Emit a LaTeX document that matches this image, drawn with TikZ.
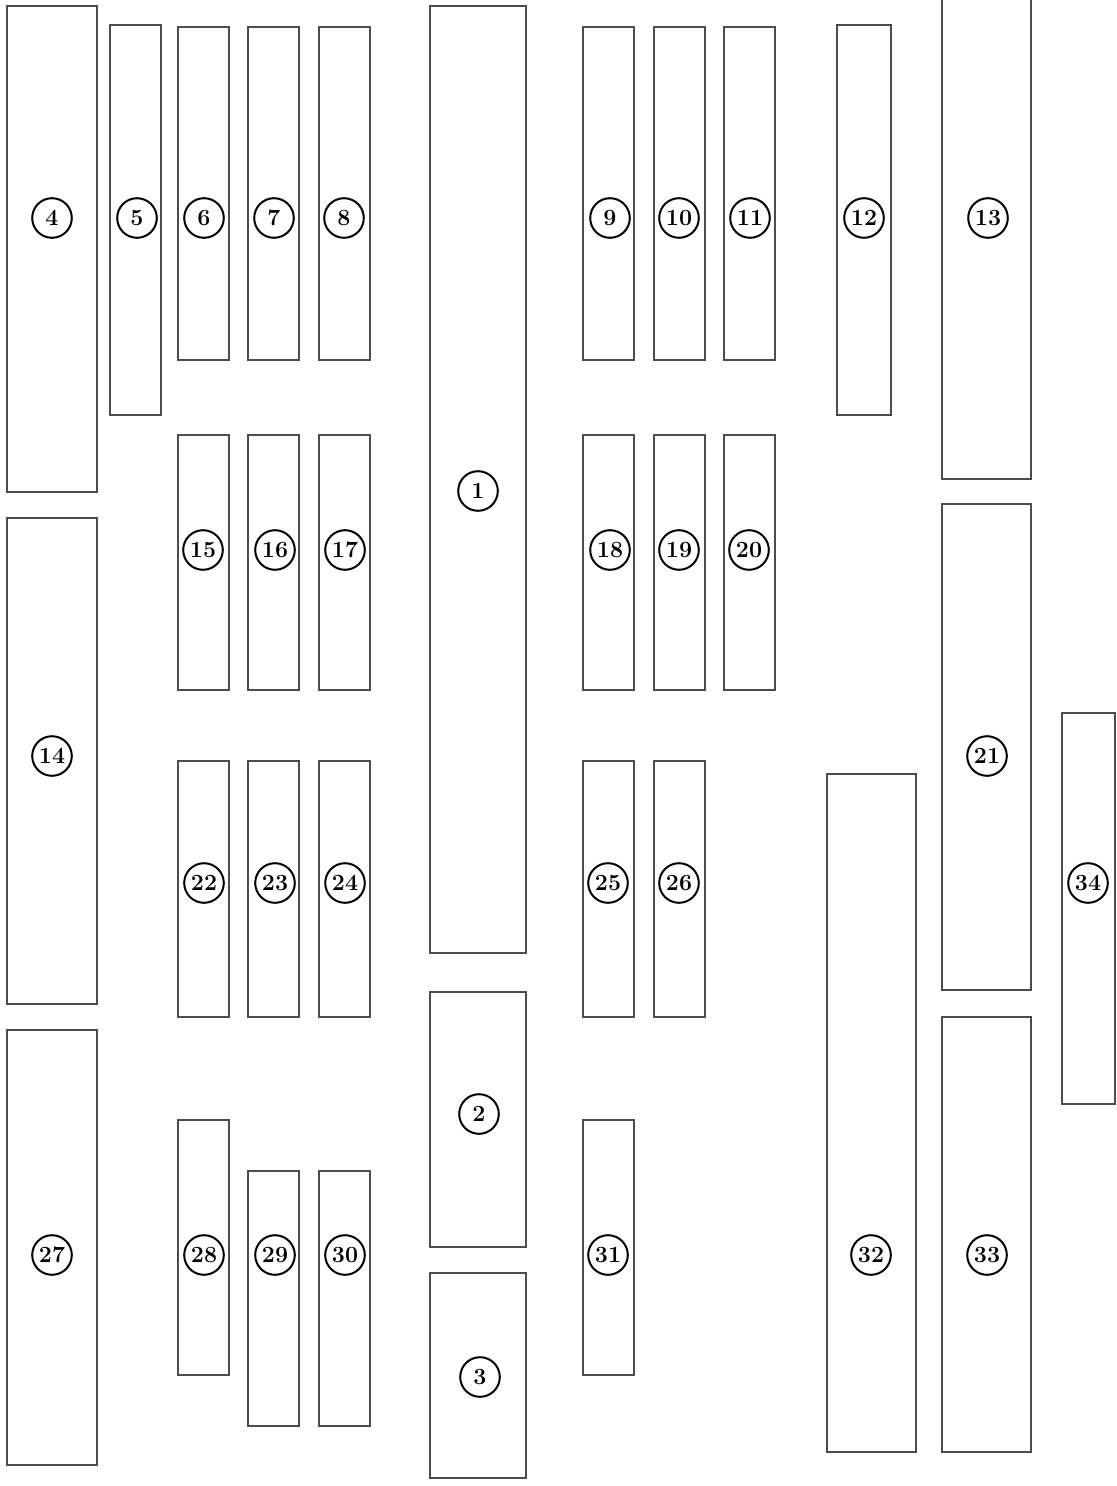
\documentclass[tikz,border=0pt]{standalone}
\usetikzlibrary{fit}
\tikzset{
  box/.style={draw=black!70, line width=0.55pt, inner sep=0pt, fill=none},
  lbl/.style={draw=black, circle, line width=1pt, minimum size=19.8pt, inner sep=0pt,
              font=\fontsize{11.6}{13}\selectfont\bfseries, text=black}
}
\newcommand\mybox[5]{\node[box, fit={(#2,#3) (#4,#5)}] (b#1) {};}
\newcommand\mylabel[3]{\node[lbl] (c#1) at (#2,#3) {#1};}
\begin{document}
\begin{tikzpicture}[x=0.5pt,y=-0.5pt]
\useasboundingbox (0,0) rectangle (1117,1486);
% central column
\mybox{1}{430}{6}{526}{953}
\mybox{2}{430}{992}{526}{1247}
\mybox{3}{430}{1273}{526}{1478}
% top row
\mybox{4}{7}{6}{97}{492}
\mybox{5}{110}{25}{161}{415}
\mybox{6}{178}{27}{229}{360}
\mybox{7}{248}{27}{299}{360}
\mybox{8}{319}{27}{370}{360}
\mybox{9}{583}{27}{634}{360}
\mybox{10}{654}{27}{705}{360}
\mybox{11}{724}{27}{775}{360}
\mybox{12}{837}{25}{891}{415}
\mybox{13}{942}{-4}{1031}{479}
% second row
\mybox{14}{7}{518}{97}{1004}
\mybox{15}{178}{435}{229}{690}
\mybox{16}{248}{435}{299}{690}
\mybox{17}{319}{435}{370}{690}
\mybox{18}{583}{435}{634}{690}
\mybox{19}{654}{435}{705}{690}
\mybox{20}{724}{435}{775}{690}
\mybox{21}{942}{504}{1031}{990}
% third row
\mybox{22}{178}{761}{229}{1017}
\mybox{23}{248}{761}{299}{1017}
\mybox{24}{319}{761}{370}{1017}
\mybox{25}{583}{761}{634}{1017}
\mybox{26}{654}{761}{705}{1017}
\mybox{34}{1062}{713}{1115}{1104}
% bottom row
\mybox{27}{7}{1030}{97}{1465}
\mybox{28}{178}{1120}{229}{1375}
\mybox{29}{248}{1171}{299}{1426}
\mybox{30}{319}{1171}{370}{1426}
\mybox{31}{583}{1120}{634}{1375}
\mybox{32}{827}{774}{916}{1452}
\mybox{33}{942}{1017}{1031}{1452}
% labels
\mylabel{1}{478}{491}
\mylabel{2}{479}{1114}
\mylabel{3}{480}{1377}
\mylabel{4}{52}{218}
\mylabel{5}{137}{218}
\mylabel{6}{204}{218}
\mylabel{7}{274}{218}
\mylabel{8}{344}{218}
\mylabel{9}{610}{218}
\mylabel{10}{679}{218}
\mylabel{11}{750}{218}
\mylabel{12}{864}{218}
\mylabel{13}{988}{218}
\mylabel{14}{52}{756}
\mylabel{15}{203}{550}
\mylabel{16}{275}{550}
\mylabel{17}{345}{550}
\mylabel{18}{610}{550}
\mylabel{19}{679}{550}
\mylabel{20}{749}{550}
\mylabel{21}{987}{756}
\mylabel{22}{204}{883}
\mylabel{23}{275}{883}
\mylabel{24}{345}{883}
\mylabel{25}{608}{883}
\mylabel{26}{679}{883}
\mylabel{27}{52}{1255}
\mylabel{28}{204}{1255}
\mylabel{29}{275}{1255}
\mylabel{30}{345}{1255}
\mylabel{31}{608}{1255}
\mylabel{32}{871}{1255}
\mylabel{33}{987}{1255}
\mylabel{34}{1088}{883}
\end{tikzpicture}
\end{document}
